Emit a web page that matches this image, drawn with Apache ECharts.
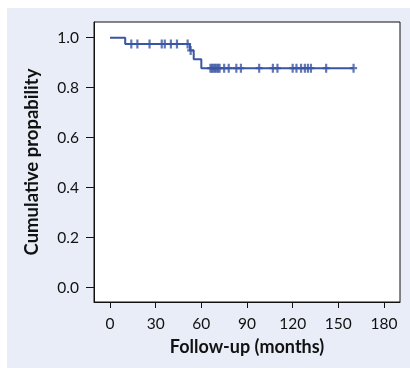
<!DOCTYPE html>
<html>
<head>
<meta charset="utf-8">
<script src="https://cdn.jsdelivr.net/npm/echarts@6/dist/echarts.min.js"></script>
<style>
html,body{margin:0;padding:0;background:#ffffff;}
#chart{width:410px;height:368px;}
</style>
</head>
<body>
<div id="chart"></div>
<script>
// Kaplan-Meier step curve (months, cumulative probability)
var stepTimes = [0, 10, 52.5, 55, 60, 160];
var stepSurv  = [1.0, 0.975, 0.949, 0.914, 0.878, 0.878];

// Censored observations (months, probability at censoring)
var censorTimes = [14, 18, 26, 34, 36, 40, 44, 51,
                   53,
                   66, 67, 68, 69, 70, 71, 72, 75, 78, 83, 86, 98, 107, 110,
                   120, 122.5, 125.5, 128, 130, 132, 142, 160];
var censorSurv  = [0.975, 0.975, 0.975, 0.975, 0.975, 0.975, 0.975, 0.975,
                   0.949,
                   0.878, 0.878, 0.878, 0.878, 0.878, 0.878, 0.878, 0.878, 0.878, 0.878, 0.878, 0.878, 0.878, 0.878,
                   0.878, 0.878, 0.878, 0.878, 0.878, 0.878, 0.878, 0.878];

var xTicks = [0, 30, 60, 90, 120, 150, 180];
var yTicks = [0.0, 0.2, 0.4, 0.6, 0.8, 1.0];
var xTitle = 'Follow-up (months)';
var yTitle = 'Cumulative propability';

var stepData = stepTimes.map(function (t, i) { return [t, stepSurv[i]]; });
var censorData = censorTimes.map(function (t, i) { return [t, censorSurv[i]]; });

var lineColor = '#3a55a4';
var fontFam = 'Lato';

var chart = echarts.init(document.getElementById('chart'), null, {renderer: 'canvas'});
chart.setOption({
  animation: false,
  backgroundColor: '#ffffff',
  graphic: [{
    type: 'rect', z: -10, silent: true,
    shape: {x: 7, y: 8, width: 403, height: 360},
    style: {fill: '#e8edf7'}
  }],
  grid: {
    left: 94, top: 22, right: 10, bottom: 66,
    show: true, backgroundColor: '#ffffff', borderColor: '#111111', borderWidth: 1,
    containLabel: false
  },
  xAxis: {
    type: 'value', min: -10.5, max: 190.5,
    name: xTitle, nameLocation: 'middle', nameGap: 36,
    nameTextStyle: {fontFamily: fontFam, fontWeight: 'bold', fontSize: 18, color: '#111'},
    axisLine: {show: true, onZero: false, lineStyle: {color: '#111', width: 1}},
    axisTick: {show: true, length: 6, customValues: xTicks, lineStyle: {color: '#111'}},
    axisLabel: {customValues: xTicks, margin: 14, fontFamily: fontFam, fontSize: 15.5, color: '#111',
                formatter: function (v) { return String(v); }},
    splitLine: {show: false}
  },
  yAxis: {
    type: 'value', min: -0.058, max: 1.063,
    name: yTitle, nameLocation: 'middle', nameGap: 52, nameRotate: 90,
    nameTextStyle: {fontFamily: fontFam, fontWeight: 'bold', fontSize: 18.5, color: '#111'},
    axisLine: {show: true, onZero: false, lineStyle: {color: '#111', width: 1}},
    axisTick: {show: true, length: 8, customValues: yTicks, lineStyle: {color: '#111'}},
    axisLabel: {customValues: yTicks, margin: 15, fontFamily: fontFam, fontSize: 15.5, color: '#111',
                formatter: function (v) { return v.toFixed(1); }},
    splitLine: {show: false}
  },
  series: [{
    type: 'line', step: 'end', data: stepData, showSymbol: false,
    lineStyle: {color: lineColor, width: 2}, z: 2
  }, {
    type: 'scatter', data: censorData,
    symbol: 'path://M-1.1,-4.5h2.2v9h-2.2z M-3.5,-1.1h7v2.2h-7z',
    symbolSize: [7, 9],
    itemStyle: {color: lineColor}, z: 3
  }]
});
</script>
</body>
</html>
